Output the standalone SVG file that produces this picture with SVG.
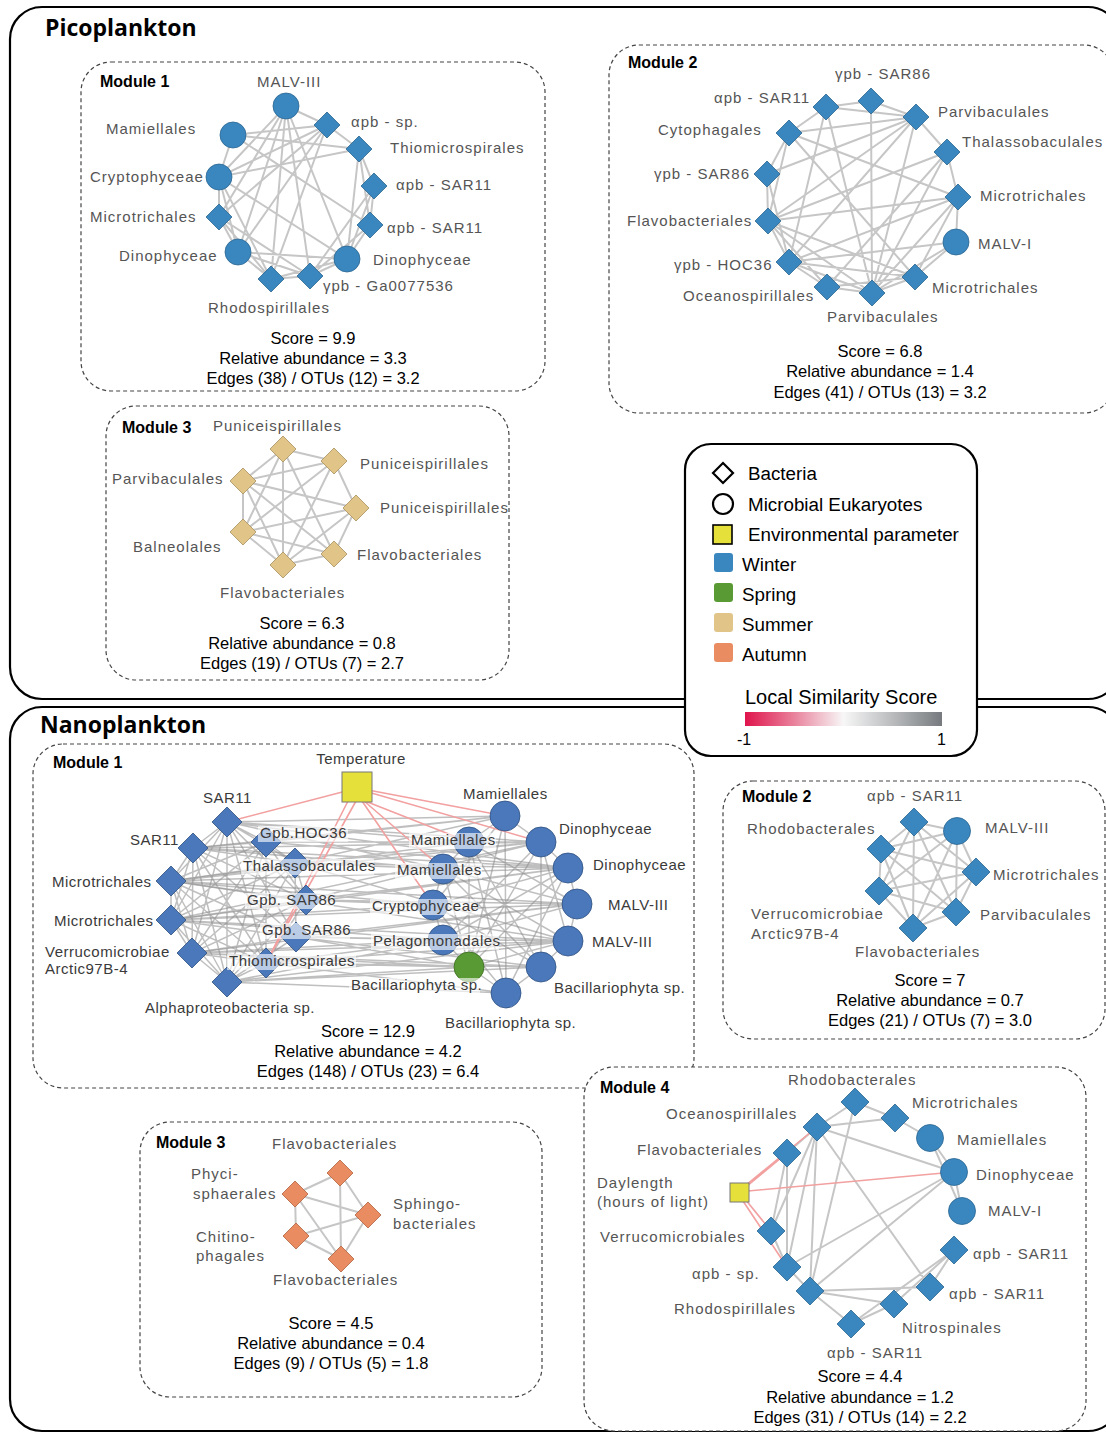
<svg xmlns="http://www.w3.org/2000/svg" xmlns:xlink="http://www.w3.org/1999/xlink" width="1106" height="1434" viewBox="0 0 1106 1434">
<style>
.frame{fill:none;stroke:#000;stroke-width:2.2}
.mod{fill:none;stroke:#444;stroke-width:1.2;stroke-dasharray:4 3}
.e{fill:none;stroke:#c6c6c6;stroke-width:2}
.en{fill:none;stroke:#8a8a8a;stroke-width:1.5;stroke-opacity:.55}
.ep{fill:none;stroke:#f2a0a0;stroke-width:1.6}
.w{fill:#3a87c0;stroke:#2b6690;stroke-width:.8}
.wn{fill:#4a78ba;stroke:#2d4f80;stroke-width:.8}
.su{fill:#e0c488;stroke:#a88f5c;stroke-width:.8}
.au{fill:#ea8c62;stroke:#b0623e;stroke-width:.8}
.sp{fill:#5a9a35;stroke:#3b6b22;stroke-width:.8}
.env{fill:#e6e13a;stroke:#777;stroke-width:1}
.lb{font-family:"Liberation Sans",Arial,sans-serif;font-size:15px;letter-spacing:1px;fill:#555}
.ln{font-family:"Liberation Sans",Arial,sans-serif;font-size:15px;letter-spacing:.5px;fill:#3a3a3a}
.st{font-family:"Liberation Sans",Arial,sans-serif;font-size:16.5px;fill:#000;text-anchor:middle}
.mt{font-family:"Liberation Sans",Arial,sans-serif;font-size:16px;font-weight:bold;fill:#000}
.tt{font-family:"Open Sans","DejaVu Sans",sans-serif;font-size:23px;font-weight:bold;fill:#000}
.lg{font-family:"Liberation Sans",Arial,sans-serif;font-size:18.8px;fill:#000}
.bg{fill:#fff;fill-opacity:.62}
.m{text-anchor:middle}
</style>
<defs>
<path id="d13" d="M0-13L13 0 0 13-13 0Z"/>
<path id="d14" d="M0-14L14 0 0 14-14 0Z"/>
<path id="d15" d="M0-15L15 0 0 15-15 0Z"/>
<linearGradient id="lss" x1="0" y1="0" x2="1" y2="0">
<stop offset="0" stop-color="#e0144c"/>
<stop offset="0.25" stop-color="#e9829c"/>
<stop offset="0.5" stop-color="#f7f7f7"/>
<stop offset="0.75" stop-color="#b9bbbd"/>
<stop offset="1" stop-color="#767a7e"/>
</linearGradient>
</defs>
<rect width="1106" height="1434" fill="#fff"/>

<!-- outer frames -->
<rect class="frame" x="10" y="7" width="1110" height="692" rx="32"/>
<rect class="frame" x="10" y="707" width="1110" height="724" rx="32"/>
<text class="tt" x="45" y="36">Picoplankton</text>
<text class="tt" x="40" y="733">Nanoplankton</text>

<!-- module boxes -->
<g id="module-boxes">
<rect class="mod" x="81" y="62" width="464" height="329" rx="30"/>
<rect class="mod" x="609" y="45" width="505" height="368" rx="30"/>
<rect class="mod" x="106" y="406" width="403" height="274" rx="30"/>
<rect class="mod" x="33" y="744" width="661" height="344" rx="30"/>
<rect class="mod" x="723" y="781" width="382" height="258" rx="30"/>
<rect class="mod" x="140" y="1122" width="402" height="275" rx="30"/>
<rect class="mod" x="584" y="1067" width="502" height="364" rx="30" style="fill:#fff"/>
</g>

<!-- connectors -->
<g id="connectors">
<path class="e" d="M286 106L327 125M327 125L359 149M359 149L374 186M374 186L370 225M370 225L347 259M347 259L310 276M310 276L271 279M271 279L238 252M238 252L219 217M219 217L219 177M219 177L233 135M286 106L219 177M286 106L238 252M286 106L271 279M286 106L310 276M286 106L347 259M286 106L219 217M233 135L327 125M233 135L359 149M233 135L370 225M219 177L359 149M219 177L327 125M219 177L347 259M219 177L271 279M219 177L238 252M219 217L271 279M219 217L310 276M219 217L327 125M238 252L310 276M238 252L347 259M238 252L327 125M271 279L347 259M271 279L327 125M310 276L370 225M310 276L374 186M347 259L374 186M347 259L359 149M370 225L359 149"/>
<path class="e" d="M826 107L871 101M871 101L916 117M916 117L947 152M947 152L958 197M958 197L956 242M956 242L915 277M915 277L872 293M872 293L827 287M827 287L789 262M789 262L768 221M768 221L767 174M767 174L789 133M789 133L826 107M871 101L872 293M916 117L789 133M916 117L767 174M916 117L768 221M916 117L789 262M916 117L872 293M916 117L826 107M947 152L768 221M947 152L827 287M947 152L872 293M958 197L768 221M958 197L789 262M958 197L789 133M958 197L872 293M958 197L915 277M956 242L789 262M956 242L872 293M915 277L789 133M915 277L768 221M915 277L789 262M872 293L789 262M872 293L768 221M872 293L826 107M827 287L768 221M827 287L915 277M789 262L767 174M789 262L826 107M768 221L789 133"/>
<path class="e" d="M283 449L334 461M283 449L334 554M283 449L283 565M283 449L243 532M283 449L243 481M334 461L356 508M334 461L283 565M334 461L243 532M334 461L243 481M356 508L334 554M356 508L283 565M356 508L243 532M356 508L243 481M334 554L283 565M334 554L243 532M334 554L243 481M283 565L243 532M283 565L243 481M243 532L243 481"/>
<path class="en" d="M227 822L193 848M227 822L171 881M227 822L171 920M227 822L192 953M227 822L227 982M193 848L171 881M193 848L171 920M193 848L192 953M193 848L227 982M171 881L171 920M171 881L192 953M171 881L227 982M171 920L192 953M171 920L227 982M192 953L227 982M227 822L266 842M227 822L295 863M227 822L306 900M227 822L296 937M227 822L266 963M193 848L266 842M193 848L295 863M193 848L306 900M193 848L296 937M193 848L266 963M171 881L266 842M171 881L295 863M171 881L306 900M171 881L296 937M171 881L266 963M171 920L266 842M171 920L295 863M171 920L306 900M171 920L296 937M171 920L266 963M192 953L266 842M192 953L295 863M192 953L306 900M192 953L296 937M192 953L266 963M227 982L266 842M227 982L295 863M227 982L306 900M227 982L296 937M227 982L266 963M266 842L295 863M266 842L306 900M295 863L296 937M306 900L266 963M266 842L266 963M295 863L306 900"/>
<path class="en" d="M227 822L505 816M227 822L541 842M227 822L469 842M193 848L541 842M193 848L443 869M171 881L433 905M171 881L568 868M171 881L577 904M171 920L577 904M171 920L443 940M171 920L568 941M192 953L469 967M192 953L541 967M192 953L443 940M227 982L541 967M227 982L506 993M227 982L469 967M266 842L505 816M266 842L541 842M266 842L469 842M295 863L568 868M295 863L443 869M295 863L541 842M306 900L577 904M306 900L433 905M306 900L568 868M296 937L568 941M296 937L443 940M296 937L577 904M266 963L469 967M266 963L541 967M266 963L506 993M193 848L568 868M171 881L541 842M171 920L568 868M192 953L568 941M227 822L568 868M193 848L505 816M171 881L568 941M171 920L541 842M192 953L577 904M227 982L568 941M266 842L568 868M295 863L568 941M306 900L541 842M296 937L541 967M266 963L568 941M266 963L443 940M227 982L443 940M227 822L443 869M295 863L505 816M171 881L469 842M171 920L433 905M296 937L469 967"/>
<path class="en" d="M505 816L541 842M541 842L568 868M568 868L577 904M577 904L568 941M568 941L541 967M541 967L506 993M506 993L469 967M469 967L443 940M443 940L433 905M433 905L443 869M443 869L469 842M469 842L505 816M505 816L433 905M505 816L469 967M541 842L443 940M541 842L469 967M541 842L541 967M568 868L469 967M568 868L433 905M577 904L469 842M577 904L443 869M568 941L443 869M568 941L469 967M541 967L443 869M541 967L433 905M506 993L433 905M506 993L469 842M469 842L469 967M443 869L469 967M541 842L568 941M505 816L506 993M568 868L506 993M469 842L541 967M443 940L568 868M577 904L443 940"/>
<path class="ep" d="M350 790L227 822M348 801L266 963M356 801L266 963M368 790L505 816M368 792L541 842M365 801L469 842M362 801L433 905M364 801L443 869"/>
<path class="e" d="M914 822L957 831M914 822L976 872M914 822L956 912M914 822L913 928M914 822L879 891M914 822L881 849M957 831L976 872M957 831L956 912M957 831L913 928M957 831L879 891M957 831L881 849M976 872L956 912M976 872L913 928M976 872L879 891M976 872L881 849M956 912L913 928M956 912L879 891M956 912L881 849M913 928L879 891M913 928L881 849M879 891L881 849"/>
<path class="e" d="M340 1173L295 1194M340 1173L341 1259M340 1173L368 1215M295 1194L368 1215M295 1194L296 1236M295 1194L341 1259M296 1236L368 1215M296 1236L341 1259M368 1215L341 1259"/>
<path class="e" d="M855 1102L895 1118M895 1118L930 1138M930 1138L954 1172M954 1172L962 1211M817 1127L855 1102M817 1127L895 1118M817 1127L954 1172M817 1127L771 1231M817 1127L787 1267M817 1127L810 1291M817 1127L930 1287M855 1102L810 1291M787 1153L771 1231M787 1153L787 1267M771 1231L787 1267M787 1267L810 1291M787 1267L954 1172M810 1291L954 1172M810 1291L851 1324M810 1291L894 1304M810 1291L930 1287M851 1324L894 1304M851 1324L954 1250M894 1304L954 1250M930 1138L962 1211M787 1153L817 1127M930 1287L954 1250"/>
<path class="ep" d="M746 1185L817 1127M746 1187L787 1153M748 1191L954 1172M745 1199L771 1231M743 1201L787 1267"/>
</g>

<!-- Pico Module 1 -->
<g id="pico-module1">
<text class="mt" x="100" y="87">Module 1</text>
<g id="p1-malv3"><circle class="w" cx="286" cy="106" r="13"/><text class="lb" x="257" y="87">MALV-III</text></g>
<g id="p1-apb-sp"><use href="#d13" x="327" y="125" class="w"/><text class="lb" x="351" y="127">αpb - sp.</text></g>
<g id="p1-thiomicro"><use href="#d13" x="359" y="149" class="w"/><text class="lb" x="390" y="153">Thiomicrospirales</text></g>
<g id="p1-sar11a"><use href="#d13" x="374" y="186" class="w"/><text class="lb" x="396" y="190">αpb - SAR11</text></g>
<g id="p1-sar11b"><use href="#d13" x="370" y="225" class="w"/><text class="lb" x="387" y="233">αpb - SAR11</text></g>
<g id="p1-dino-r"><circle class="w" cx="347" cy="259" r="13"/><text class="lb" x="373" y="265">Dinophyceae</text></g>
<g id="p1-gpb"><use href="#d13" x="310" y="276" class="w"/><text class="lb" x="323" y="291">γpb - Ga0077536</text></g>
<g id="p1-rhodo"><use href="#d13" x="271" y="279" class="w"/><text class="lb" x="208" y="313">Rhodospirillales</text></g>
<g id="p1-dino-l"><circle class="w" cx="238" cy="252" r="13"/><text class="lb" x="119" y="261">Dinophyceae</text></g>
<g id="p1-microtri"><use href="#d13" x="219" y="217" class="w"/><text class="lb" x="90" y="222">Microtrichales</text></g>
<g id="p1-crypto"><circle class="w" cx="219" cy="177" r="13"/><text class="lb" x="90" y="182">Cryptophyceae</text></g>
<g id="p1-mamiell"><circle class="w" cx="233" cy="135" r="13"/><text class="lb" x="106" y="134">Mamiellales</text></g>
<text class="st" x="313" y="344">Score = 9.9</text>
<text class="st" x="313" y="364">Relative abundance = 3.3</text>
<text class="st" x="313" y="384">Edges (38) / OTUs (12) = 3.2</text>
</g>

<!-- Pico Module 2 -->
<g id="pico-module2">
<text class="mt" x="628" y="68">Module 2</text>
<g id="p2-sar86-top"><use href="#d13" x="871" y="101" class="w"/><text class="lb" x="835" y="79">γpb - SAR86</text></g>
<g id="p2-parvi-top"><use href="#d13" x="916" y="117" class="w"/><text class="lb" x="938" y="117">Parvibaculales</text></g>
<g id="p2-thalasso"><use href="#d13" x="947" y="152" class="w"/><text class="lb" x="962" y="147">Thalassobaculales</text></g>
<g id="p2-microtri-r"><use href="#d13" x="958" y="197" class="w"/><text class="lb" x="980" y="201">Microtrichales</text></g>
<g id="p2-malv1"><circle class="w" cx="956" cy="242" r="13"/><text class="lb" x="978" y="249">MALV-I</text></g>
<g id="p2-microtri-b"><use href="#d13" x="915" y="277" class="w"/><text class="lb" x="932" y="293">Microtrichales</text></g>
<g id="p2-parvi-b"><use href="#d13" x="872" y="293" class="w"/><text class="lb" x="827" y="322">Parvibaculales</text></g>
<g id="p2-oceano"><use href="#d13" x="827" y="287" class="w"/><text class="lb" x="683" y="301">Oceanospirillales</text></g>
<g id="p2-hoc36"><use href="#d13" x="789" y="262" class="w"/><text class="lb" x="674" y="270">γpb - HOC36</text></g>
<g id="p2-flavo"><use href="#d13" x="768" y="221" class="w"/><text class="lb" x="627" y="226">Flavobacteriales</text></g>
<g id="p2-sar86-l"><use href="#d13" x="767" y="174" class="w"/><text class="lb" x="654" y="179">γpb - SAR86</text></g>
<g id="p2-cyto"><use href="#d13" x="789" y="133" class="w"/><text class="lb" x="658" y="135">Cytophagales</text></g>
<g id="p2-sar11"><use href="#d13" x="826" y="107" class="w"/><text class="lb" x="714" y="103">αpb - SAR11</text></g>
<text class="st" x="880" y="357">Score = 6.8</text>
<text class="st" x="880" y="377">Relative abundance = 1.4</text>
<text class="st" x="880" y="398">Edges (41) / OTUs (13) = 3.2</text>
</g>

<!-- Pico Module 3 -->
<g id="pico-module3">
<text class="mt" x="122" y="433">Module 3</text>
<g id="p3-punic-top"><use href="#d13" x="283" y="449" class="su"/><text class="lb" x="213" y="431">Puniceispirillales</text></g>
<g id="p3-punic-ur"><use href="#d13" x="334" y="461" class="su"/><text class="lb" x="360" y="469">Puniceispirillales</text></g>
<g id="p3-punic-r"><use href="#d13" x="356" y="508" class="su"/><text class="lb" x="380" y="513">Puniceispirillales</text></g>
<g id="p3-flavo-r"><use href="#d13" x="334" y="554" class="su"/><text class="lb" x="357" y="560">Flavobacteriales</text></g>
<g id="p3-flavo-b"><use href="#d13" x="283" y="565" class="su"/><text class="lb" x="220" y="598">Flavobacteriales</text></g>
<g id="p3-balneo"><use href="#d13" x="243" y="532" class="su"/><text class="lb" x="133" y="552">Balneolales</text></g>
<g id="p3-parvi"><use href="#d13" x="243" y="481" class="su"/><text class="lb" x="112" y="484">Parvibaculales</text></g>
<text class="st" x="302" y="629">Score = 6.3</text>
<text class="st" x="302" y="649">Relative abundance = 0.8</text>
<text class="st" x="302" y="669">Edges (19) / OTUs (7) = 2.7</text>
</g>

<!-- Nano Module 1 -->
<g id="nano-module1">
<text class="mt" x="53" y="768">Module 1</text>
<g id="n1-temperature"><rect class="env" x="342" y="772" width="30" height="30"/><text class="ln m" x="361" y="764">Temperature</text></g>
<g id="n1-sar11a"><use href="#d15" x="227" y="822" class="wn"/><text class="ln" x="203" y="803">SAR11</text></g>
<g id="n1-sar11b"><use href="#d15" x="193" y="848" class="wn"/><text class="ln" x="130" y="845">SAR11</text></g>
<g id="n1-micro1"><use href="#d15" x="171" y="881" class="wn"/><text class="ln" x="52" y="887">Microtrichales</text></g>
<g id="n1-micro2"><use href="#d15" x="171" y="920" class="wn"/><text class="ln" x="54" y="926">Microtrichales</text></g>
<g id="n1-verruco"><use href="#d15" x="192" y="953" class="wn"/><text class="ln" x="45" y="957">Verrucomicrobiae</text><text class="ln" x="45" y="974">Arctic97B-4</text></g>
<g id="n1-alpha"><use href="#d15" x="227" y="982" class="wn"/><text class="ln" x="145" y="1013">Alphaproteobacteria sp.</text></g>
<g id="n1-mam-r"><circle class="wn" cx="505" cy="816" r="15"/><text class="ln" x="463" y="799">Mamiellales</text></g>
<g id="n1-dino1"><circle class="wn" cx="541" cy="842" r="15"/><text class="ln" x="559" y="834">Dinophyceae</text></g>
<g id="n1-dino2"><circle class="wn" cx="568" cy="868" r="15"/><text class="ln" x="593" y="870">Dinophyceae</text></g>
<g id="n1-malv1"><circle class="wn" cx="577" cy="904" r="15"/><text class="ln" x="608" y="910">MALV-III</text></g>
<g id="n1-malv2"><circle class="wn" cx="568" cy="941" r="15"/><text class="ln" x="592" y="947">MALV-III</text></g>
<g id="n1-bacil1"><circle class="wn" cx="541" cy="967" r="15"/><text class="ln" x="554" y="993">Bacillariophyta sp.</text></g>
<g id="n1-bacil2"><circle class="wn" cx="506" cy="993" r="15"/><text class="ln" x="445" y="1028">Bacillariophyta sp.</text></g>
<g id="n1-hoc36"><use href="#d15" x="266" y="842" class="wn"/><rect class="bg" x="258" y="826" width="90" height="16"/><text class="ln" x="260" y="838">Gpb.HOC36</text></g>
<g id="n1-thalasso"><use href="#d15" x="295" y="863" class="wn"/><rect class="bg" x="241" y="859" width="133" height="16"/><text class="ln" x="243" y="871">Thalassobaculales</text></g>
<g id="n1-sar86a"><use href="#d15" x="306" y="900" class="wn"/><rect class="bg" x="245" y="893" width="89" height="16"/><text class="ln" x="247" y="905">Gpb. SAR86</text></g>
<g id="n1-sar86b"><use href="#d15" x="296" y="937" class="wn"/><rect class="bg" x="260" y="923" width="90" height="16"/><text class="ln" x="262" y="935">Gpb. SAR86</text></g>
<g id="n1-thiomicro"><use href="#d15" x="266" y="963" class="wn"/><rect class="bg" x="227" y="954" width="129" height="16"/><text class="ln" x="229" y="966">Thiomicrospirales</text></g>
<g id="n1-mam-i1"><circle class="wn" cx="469" cy="842" r="15"/><rect class="bg" x="409" y="833" width="87" height="16"/><text class="ln" x="411" y="845">Mamiellales</text></g>
<g id="n1-mam-i2"><circle class="wn" cx="443" cy="869" r="15"/><rect class="bg" x="395" y="863" width="87" height="16"/><text class="ln" x="397" y="875">Mamiellales</text></g>
<g id="n1-crypto"><circle class="wn" cx="433" cy="905" r="15"/><rect class="bg" x="370" y="899" width="107" height="16"/><text class="ln" x="372" y="911">Cryptophyceae</text></g>
<g id="n1-pelago"><circle class="wn" cx="443" cy="940" r="15"/><rect class="bg" x="371" y="934" width="128" height="16"/><text class="ln" x="373" y="946">Pelagomonadales</text></g>
<g id="n1-bacil-green"><circle class="sp" cx="469" cy="967" r="15"/><rect class="bg" x="349" y="978" width="131" height="16"/><text class="ln" x="351" y="990">Bacillariophyta sp.</text></g>
<text class="st" x="368" y="1037">Score = 12.9</text>
<text class="st" x="368" y="1057">Relative abundance = 4.2</text>
<text class="st" x="368" y="1077">Edges (148) / OTUs (23) = 6.4</text>
</g>

<!-- Nano Module 2 -->
<g id="nano-module2">
<text class="mt" x="742" y="802">Module 2</text>
<g id="n2-sar11"><use href="#d14" x="914" y="822" class="w"/><text class="lb" x="867" y="801">αpb - SAR11</text></g>
<g id="n2-malv3"><circle class="w" cx="957" cy="831" r="13.5"/><text class="lb" x="985" y="833">MALV-III</text></g>
<g id="n2-microtri"><use href="#d14" x="976" y="872" class="w"/><text class="lb" x="993" y="880">Microtrichales</text></g>
<g id="n2-parvi"><use href="#d14" x="956" y="912" class="w"/><text class="lb" x="980" y="920">Parvibaculales</text></g>
<g id="n2-flavo"><use href="#d14" x="913" y="928" class="w"/><text class="lb" x="855" y="957">Flavobacteriales</text></g>
<g id="n2-verruco"><use href="#d14" x="879" y="891" class="w"/><text class="lb" x="751" y="919">Verrucomicrobiae</text><text class="lb" x="751" y="939">Arctic97B-4</text></g>
<g id="n2-rhodob"><use href="#d14" x="881" y="849" class="w"/><text class="lb" x="747" y="834">Rhodobacterales</text></g>
<text class="st" x="930" y="986">Score = 7</text>
<text class="st" x="930" y="1006">Relative abundance = 0.7</text>
<text class="st" x="930" y="1026">Edges (21) / OTUs (7) = 3.0</text>
</g>

<!-- Nano Module 3 -->
<g id="nano-module3">
<text class="mt" x="156" y="1148">Module 3</text>
<g id="n3-flavo-top"><use href="#d13" x="340" y="1173" class="au"/><text class="lb" x="272" y="1149">Flavobacteriales</text></g>
<g id="n3-phyci"><use href="#d13" x="295" y="1194" class="au"/><text class="lb" x="191" y="1179">Phyci-</text><text class="lb" x="193" y="1199">sphaerales</text></g>
<g id="n3-sphingo"><use href="#d13" x="368" y="1215" class="au"/><text class="lb" x="393" y="1209">Sphingo-</text><text class="lb" x="393" y="1229">bacteriales</text></g>
<g id="n3-chitino"><use href="#d13" x="296" y="1236" class="au"/><text class="lb" x="196" y="1242">Chitino-</text><text class="lb" x="196" y="1261">phagales</text></g>
<g id="n3-flavo-b"><use href="#d13" x="341" y="1259" class="au"/><text class="lb" x="273" y="1285">Flavobacteriales</text></g>
<text class="st" x="331" y="1329">Score = 4.5</text>
<text class="st" x="331" y="1349">Relative abundance = 0.4</text>
<text class="st" x="331" y="1369">Edges (9) / OTUs (5) = 1.8</text>
</g>

<!-- Nano Module 4 -->
<g id="nano-module4">
<text class="mt" x="600" y="1093">Module 4</text>
<g id="n4-rhodob"><use href="#d14" x="855" y="1102" class="w"/><text class="lb" x="788" y="1085">Rhodobacterales</text></g>
<g id="n4-microtri"><use href="#d14" x="895" y="1118" class="w"/><text class="lb" x="912" y="1108">Microtrichales</text></g>
<g id="n4-mamiell"><circle class="w" cx="930" cy="1138" r="13.5"/><text class="lb" x="957" y="1145">Mamiellales</text></g>
<g id="n4-dino"><circle class="w" cx="954" cy="1172" r="13.5"/><text class="lb" x="976" y="1180">Dinophyceae</text></g>
<g id="n4-malv1"><circle class="w" cx="962" cy="1211" r="13.5"/><text class="lb" x="988" y="1216">MALV-I</text></g>
<g id="n4-sar11a"><use href="#d14" x="954" y="1250" class="w"/><text class="lb" x="973" y="1259">αpb - SAR11</text></g>
<g id="n4-sar11b"><use href="#d14" x="930" y="1287" class="w"/><text class="lb" x="949" y="1299">αpb - SAR11</text></g>
<g id="n4-nitro"><use href="#d14" x="894" y="1304" class="w"/><text class="lb" x="902" y="1333">Nitrospinales</text></g>
<g id="n4-sar11c"><use href="#d14" x="851" y="1324" class="w"/><text class="lb" x="827" y="1358">αpb - SAR11</text></g>
<g id="n4-rhodosp"><use href="#d14" x="810" y="1291" class="w"/><text class="lb" x="674" y="1314">Rhodospirillales</text></g>
<g id="n4-apb-sp"><use href="#d14" x="787" y="1267" class="w"/><text class="lb" x="692" y="1279">αpb - sp.</text></g>
<g id="n4-verruco"><use href="#d14" x="771" y="1231" class="w"/><text class="lb" x="600" y="1242">Verrucomicrobiales</text></g>
<g id="n4-daylength"><rect class="env" x="730" y="1183" width="19" height="19"/><text class="lb" x="597" y="1188">Daylength</text><text class="lb" x="597" y="1207">(hours of light)</text></g>
<g id="n4-flavo"><use href="#d14" x="787" y="1153" class="w"/><text class="lb" x="637" y="1155">Flavobacteriales</text></g>
<g id="n4-oceano"><use href="#d14" x="817" y="1127" class="w"/><text class="lb" x="666" y="1119">Oceanospirillales</text></g>
<text class="st" x="860" y="1382">Score = 4.4</text>
<text class="st" x="860" y="1403">Relative abundance = 1.2</text>
<text class="st" x="860" y="1423">Edges (31) / OTUs (14) = 2.2</text>
</g>

<!-- Legend -->
<g id="legend">
<rect x="685" y="444" width="292" height="312" rx="26" fill="#fff" stroke="#000" stroke-width="2.2"/>
<path d="M723 463L733 473 723 483 713 473Z" fill="#fff" stroke="#000" stroke-width="2.2"/>
<text class="lg" x="748" y="480">Bacteria</text>
<circle cx="723" cy="504" r="10" fill="#fff" stroke="#000" stroke-width="2.2"/>
<text class="lg" x="748" y="511">Microbial Eukaryotes</text>
<rect x="713" y="525" width="19" height="19" fill="#e6e13a" stroke="#000" stroke-width="1.6"/>
<text class="lg" x="748" y="541">Environmental parameter</text>
<rect x="714" y="553" width="19" height="19" rx="3" fill="#3a87c0"/>
<text class="lg" x="742" y="571">Winter</text>
<rect x="714" y="583" width="19" height="19" rx="3" fill="#5a9a35"/>
<text class="lg" x="742" y="601">Spring</text>
<rect x="714" y="613" width="19" height="19" rx="3" fill="#e0c488"/>
<text class="lg" x="742" y="631">Summer</text>
<rect x="714" y="643" width="19" height="19" rx="3" fill="#ea8c62"/>
<text class="lg" x="742" y="661">Autumn</text>
<text class="lg" x="745" y="704" style="font-size:20px">Local Similarity Score</text>
<rect x="745" y="712" width="197" height="14" fill="url(#lss)"/>
<text class="lg" x="737" y="745" style="font-size:16px">-1</text>
<text class="lg" x="937" y="745" style="font-size:16px">1</text>
</g>
</svg>
